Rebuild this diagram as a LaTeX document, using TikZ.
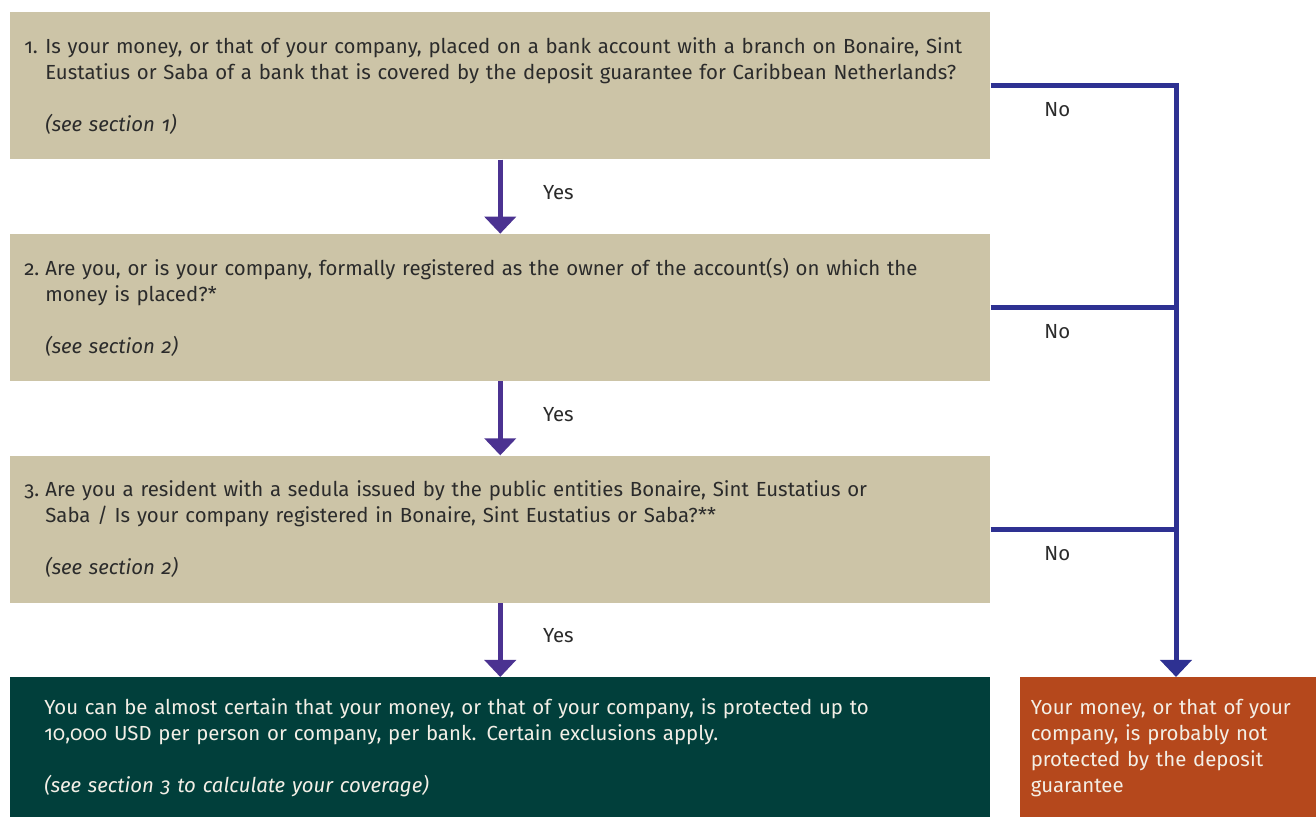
\documentclass[tikz,border=0pt]{standalone}
\usepackage{fontspec}
\setmainfont{Fira Sans}[Numbers=OldStyle]
\usetikzlibrary{positioning,arrows.meta}
\definecolor{beige}{HTML}{CCC4A7}
\definecolor{deepgreen}{HTML}{013F3B}
\definecolor{rust}{HTML}{B5481C}
\definecolor{inkgrey}{HTML}{2B2B2B}
\definecolor{cream}{HTML}{F3EFE6}
\definecolor{yespurple}{HTML}{4B3291}
\definecolor{nonavy}{HTML}{2E3192}
\newcommand{\boxfont}{\fontsize{11.6pt}{14.8pt}\selectfont}
\newcommand{\qnum}[1]{\leftskip=0.42cm\leavevmode\llap{\makebox[0.42cm][l]{#1.}}}
\newcommand{\qsee}[1]{\leavevmode\hspace*{0.42cm}\textit{#1}}
\tikzstyle{question} = [rectangle, fill=beige, text=inkgrey, minimum width=19.6cm, minimum height=2.94cm, inner xsep=0.28cm, inner ysep=0pt, text width=19.04cm, align=left, font=\boxfont]
\tikzstyle{covered} = [rectangle, fill=deepgreen, text=cream, minimum width=19.6cm, minimum height=2.82cm, inner xsep=0.68cm, inner ysep=0pt, text width=18.24cm, align=left, font=\boxfont]
\tikzstyle{notcovered} = [rectangle, fill=rust, text=cream, minimum width=5.94cm, minimum height=2.82cm, inner xsep=0.22cm, inner ysep=0pt, text width=5.5cm, align=left, font=\boxfont]
\tikzstyle{connector} = [line width=0.1cm, draw=yespurple, -{Triangle[width=0.62cm,length=0.34cm]}]
\tikzstyle{busline} = [line width=0.1cm, draw=nonavy]
\tikzstyle{answer} = [text=inkgrey, font=\boxfont]

\begin{document}
\begin{tikzpicture}[x=0.02cm, y=-0.02cm]
            \useasboundingbox (0,0) rectangle (1316,816);
            \node (q1) [question, anchor=north west] at (10,12) {
                \qnum{1}Is your money, or that of your company, placed on a bank account with a branch on Bonaire, Sint\\
                Eustatius or Saba of a bank that is covered by the deposit guarantee for Caribbean Netherlands?\\[\baselineskip]
                \qsee{(see section 1)}
            };
            \node (q2) [question, below=1.48cm of q1] {
                \qnum{2}Are you, or is your company, formally registered as the owner of the account(s) on which the\\
                money is placed?*\\[\baselineskip]
                \qsee{(see section 2)}
            };
            \node (q3) [question, below=1.48cm of q2] {
                \qnum{3}Are you a resident with a sedula issued by the public entities Bonaire, Sint Eustatius or\\
                Saba / Is your company registered in Bonaire, Sint Eustatius or Saba?**\\[\baselineskip]
                \qsee{(see section 2)}
            };
            \node (yes) [covered, below=1.48cm of q3] {
                You can be almost certain that your money, or that of your company, is protected up to\\
                10,000 USD per person or company, per bank. Certain exclusions apply.\\[\baselineskip]
                \textit{(see section 3 to calculate your coverage)}
            };
            \node (no) [notcovered, right=0.58cm of yes] {
                Your money, or that of your\\
                company, is probably not\\
                protected by the deposit\\
                guarantee
            };
            \coordinate (bus) at (1176,0);
            % yes branch
            \draw [connector] (q1.south) -- node[answer, right=0.69cm, yshift=0.08cm] {Yes} (q2.north);
            \draw [connector] (q2.south) -- node[answer, right=0.69cm, yshift=0.08cm] {Yes} (q3.north);
            \draw [connector] (q3.south) -- node[answer, right=0.69cm, yshift=0.08cm] {Yes} (yes.north);
            % no branch
            \draw [busline, -{Triangle[width=0.62cm,length=0.34cm]}] (q1.east) -- node[answer, pos=0.36, yshift=-0.48cm] {No} (q1.east -| bus) -- (bus |- no.north);
            \draw [busline] (q2.east) -- node[answer, pos=0.36, yshift=-0.48cm] {No} (q2.east -| bus);
            \draw [busline] (q3.east) -- node[answer, pos=0.36, yshift=-0.48cm] {No} (q3.east -| bus);
        \end{tikzpicture}
\end{document}
